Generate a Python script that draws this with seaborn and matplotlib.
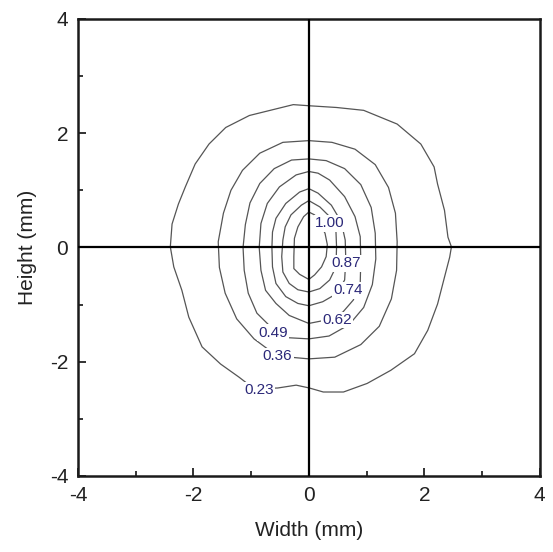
import matplotlib
import matplotlib.pyplot as plt
import pandas as pd
import seaborn as sns
from matplotlib.ticker import MultipleLocator

matplotlib.use("Agg")

# contour levels and their traced outlines (mm)
levels = ["0.23", "0.36", "0.49", "0.62", "0.74", "0.87", "1.00"]

x23 = [0.01, -0.27, -1.03, -1.44, -1.73, -1.97, -2.14, -2.26, -2.37, -2.40, -2.34, -2.20, -2.08,
       -1.85, -1.53, -1.21, -1.03, -0.86, -0.54, -0.22, 0.01, 0.25, 0.60, 1.01, 1.42, 1.83, 2.06,
       2.23, 2.35, 2.44, 2.47, 2.41, 2.35, 2.23, 2.17, 1.94, 1.53, 0.95, 0.48]
y23 = [2.48, 2.50, 2.31, 2.10, 1.81, 1.46, 1.06, 0.76, 0.41, 0.01, -0.34, -0.75, -1.22,
       -1.74, -2.04, -2.27, -2.41, -2.47, -2.46, -2.41, -2.46, -2.53, -2.53, -2.38, -2.15, -1.86, -1.45,
       -0.99, -0.52, -0.17, 0.01, 0.18, 0.65, 1.11, 1.41, 1.81, 2.16, 2.40, 2.45]

x36 = [0, -0.45, -0.85, -1.15, -1.35, -1.48, -1.57, -1.55, -1.45, -1.25, -0.95, -0.55,
       0, 0.45, 0.90, 1.22, 1.43, 1.52, 1.53, 1.50, 1.38, 1.15, 0.80, 0.40]
y36 = [1.87, 1.84, 1.65, 1.35, 1.00, 0.60, 0.10, -0.35, -0.80, -1.25, -1.60, -1.90,
       -1.95, -1.92, -1.70, -1.38, -0.90, -0.40, 0.10, 0.60, 1.05, 1.45, 1.72, 1.84]

x49 = [0, -0.30, -0.60, -0.85, -1.02, -1.10, -1.14, -1.12, -1.05, -0.90, -0.65, -0.35,
       0, 0.35, 0.70, 0.95, 1.10, 1.16, 1.15, 1.08, 0.90, 0.62, 0.30]
y49 = [1.55, 1.53, 1.38, 1.12, 0.78, 0.40, 0, -0.40, -0.80, -1.15, -1.40, -1.58,
       -1.60, -1.55, -1.35, -1.05, -0.65, -0.20, 0.25, 0.70, 1.10, 1.38, 1.52]

x62 = [0, -0.22, -0.51, -0.72, -0.83, -0.86, -0.83, -0.75, -0.57, -0.34,
       0, 0.30, 0.59, 0.77, 0.89, 0.90, 0.89, 0.80, 0.62, 0.36, 0.16]
y62 = [1.33, 1.27, 1.06, 0.77, 0.42, 0, -0.40, -0.75, -0.98, -1.19,
       -1.33, -1.27, -1.13, -0.92, -0.63, -0.22, 0.19, 0.54, 0.89, 1.18, 1.30]

x74 = [0, -0.16, -0.40, -0.57, -0.63, -0.64, -0.63, -0.57, -0.40, -0.19,
       0, 0.24, 0.48, 0.62, 0.64, 0.63, 0.56, 0.39, 0.16]
y74 = [1.03, 0.97, 0.77, 0.51, 0.27, 0, -0.34, -0.63, -0.86, -0.98,
       -1.02, -0.95, -0.81, -0.57, -0.22, 0.13, 0.45, 0.74, 0.95]

x87 = [0, -0.13, -0.31, -0.41, -0.45, -0.47, -0.45, -0.34, -0.19,
       0, 0.19, 0.36, 0.47, 0.48, 0.47, 0.36, 0.19]
y87 = [0.82, 0.74, 0.57, 0.36, 0.13, -0.16, -0.43, -0.63, -0.74,
       -0.78, -0.72, -0.57, -0.34, 0.01, 0.27, 0.54, 0.71]

x100 = [0, -0.09, -0.19, -0.25, -0.26, -0.26, -0.16, 0, 0.10, 0.22, 0.30, 0.32, 0.28, 0.10]
y100 = [0.62, 0.54, 0.36, 0.16, -0.16, -0.37, -0.47, -0.56, -0.48, -0.34, -0.16, 0.05, 0.25, 0.57]

# where the level labels sit
label_x = [-0.86, -0.54, -0.62, 0.49, 0.68, 0.65, 0.36]
label_y = [-2.50, -1.90, -1.49, -1.27, -0.75, -0.28, 0.42]

rings = [(x23, y23), (x36, y36), (x49, y49), (x62, y62), (x74, y74), (x87, y87), (x100, y100)]

frames = []
for lev, (xs, ys) in zip(levels, rings):
    # close each ring
    frames.append(pd.DataFrame({"x": xs + xs[:1], "y": ys + ys[:1], "level": lev}))
df = pd.concat(frames, ignore_index=True)

sns.set_theme(style="white")
plt.rcParams["font.family"] = ["Liberation Sans", "DejaVu Sans"]
plt.rcParams["axes.unicode_minus"] = False

fig = plt.figure(figsize=(5.53, 5.52), dpi=100)
ax = fig.add_axes([0.141, 0.1377, 0.835, 0.828])

sns.lineplot(data=df, x="x", y="y", units="level", estimator=None, sort=False,
             color="#555555", linewidth=0.9, ax=ax, legend=False, zorder=2)

# cross hair through the origin
ax.axhline(0, color="black", linewidth=1.6, zorder=3)
ax.axvline(0, color="black", linewidth=1.6, zorder=3)

for lev, lx, ly in zip(levels, label_x, label_y):
    ax.text(lx, ly, lev, ha="center", va="center", fontsize=11, color="#2b2878",
            bbox=dict(boxstyle="square,pad=0.08", facecolor="white", edgecolor="none"),
            zorder=4)

ax.set_xlim(-4, 4)
ax.set_ylim(-4, 4)
ax.xaxis.set_major_locator(MultipleLocator(2))
ax.yaxis.set_major_locator(MultipleLocator(2))
ax.xaxis.set_minor_locator(MultipleLocator(1))
ax.yaxis.set_minor_locator(MultipleLocator(1))
ax.tick_params(which="major", direction="in", length=6, width=1.3, labelsize=15,
               colors="#222222", pad=7, top=False, right=False, bottom=True, left=True)
ax.tick_params(which="minor", direction="in", length=3.5, width=1.3,
               top=False, right=False, bottom=True, left=True)

for sp in ax.spines.values():
    sp.set_linewidth(1.8)
    sp.set_color("#1a1a1a")

ax.set_xlabel("Width (mm)", fontsize=15, color="#222222", labelpad=12)
ax.set_ylabel("Height (mm)", fontsize=15, color="#222222", labelpad=9)

plt.savefig("out.png", dpi=100)
plt.close()
